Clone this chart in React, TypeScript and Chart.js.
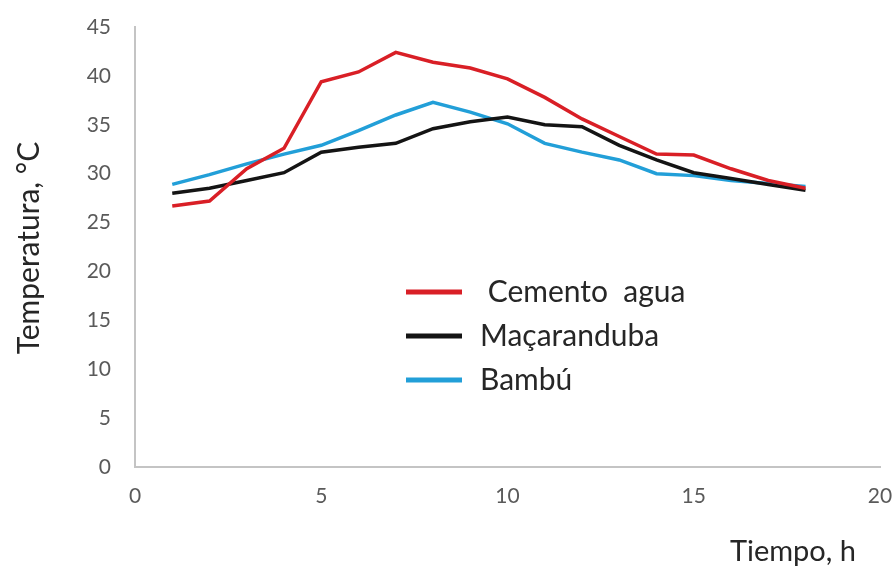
import React, { useEffect, useRef } from "react";
import { Chart, registerables } from "chart.js";

Chart.register(...registerables);

const hours = [1, 2, 3, 4, 5, 6, 7, 8, 9, 10, 11, 12, 13, 14, 15, 16, 17, 18];
const cementoAgua = [26.7, 27.2, 30.5, 32.6, 39.4, 40.4, 42.4, 41.4, 40.8, 39.7, 37.8, 35.6, 33.8, 32.0, 31.9, 30.5, 29.3, 28.5];
const macaranduba = [28.0, 28.5, 29.3, 30.1, 32.2, 32.7, 33.1, 34.6, 35.3, 35.8, 35.0, 34.8, 32.9, 31.4, 30.1, 29.5, 28.9, 28.3];
const bambu = [28.9, 29.9, 31.0, 32.0, 32.9, 34.4, 36.0, 37.3, 36.3, 35.1, 33.1, 32.2, 31.4, 30.0, 29.8, 29.3, 29.0, 28.7];
const seriesLabels = [" Cemento  agua", "Maçaranduba", "Bambú"];
const seriesColors = ["#d91f26", "#141414", "#229fd8"];
const xTicks = [0, 5, 10, 15, 20];
const yTicks = [0, 5, 10, 15, 20, 25, 30, 35, 40, 45];
const xTitle = "Tiempo, h";
const yTitle = "Temperatura, °C";

const FONT = "Lato, 'Open Sans', sans-serif";

const overlayPlugin = {
  id: "overlay",
  afterDraw(chart: any) {
    const ctx = chart.ctx;
    ctx.save();
    ctx.fillStyle = "#262626";
    ctx.font = `29px ${FONT}`;
    ctx.textBaseline = "middle";
    ctx.textAlign = "right";
    ctx.fillText(xTitle, 856, 552);
    ctx.save();
    ctx.translate(29, 248);
    ctx.rotate(-Math.PI / 2);
    ctx.textAlign = "center";
    ctx.font = `30px ${FONT}`;
    ctx.fillText(yTitle, 0, 0);
    ctx.restore();
    const rows = [292, 336, 380];
    chart.data.datasets.forEach((ds: any, i: number) => {
      const y = rows[i];
      ctx.strokeStyle = ds.borderColor;
      ctx.lineWidth = 5;
      ctx.lineCap = "butt";
      ctx.beginPath();
      ctx.moveTo(406, y);
      ctx.lineTo(462, y);
      ctx.stroke();
      ctx.fillStyle = "#262626";
      ctx.textAlign = "left";
      ctx.font = `30px ${FONT}`;
      ctx.fillText(ds.label, 480, y);
    });
    ctx.restore();
  },
};

export default function App() {
  const ref = useRef<HTMLCanvasElement>(null);
  useEffect(() => {
    if (!ref.current) return;
    const makeData = (vals: number[]) => hours.map((h, i) => ({ x: h, y: vals[i] }));
    const chart = new Chart(ref.current, {
      type: "line",
      data: {
        datasets: [cementoAgua, macaranduba, bambu].map((vals, i) => ({
          label: seriesLabels[i],
          data: makeData(vals),
          borderColor: seriesColors[i],
          backgroundColor: seriesColors[i],
          borderWidth: 3.5,
          pointRadius: 0,
          tension: 0,
          fill: false,
        })),
      },
      options: {
        animation: false,
        responsive: false,
        maintainAspectRatio: false,
        layout: { padding: { top: 27, right: 16, left: 0, bottom: 0 } },
        plugins: { legend: { display: false }, tooltip: { enabled: false } },
        scales: {
          x: {
            type: "linear",
            min: 0,
            max: 20,
            afterBuildTicks: (s: any) => {
              s.ticks = xTicks.map((v) => ({ value: v }));
            },
            afterFit: (s: any) => {
              s.height = 102;
              s.paddingLeft = 0;
              s.paddingRight = 0;
            },
            grid: { display: false, drawTicks: false },
            border: { display: true, color: "#c4c4c4", width: 2 },
            ticks: { color: "#5a5a5a", font: { family: FONT, size: 21 }, padding: 17, maxRotation: 0 },
          },
          y: {
            type: "linear",
            min: 0,
            max: 45,
            afterBuildTicks: (s: any) => {
              s.ticks = yTicks.map((v) => ({ value: v }));
            },
            afterFit: (s: any) => {
              s.width = 135;
              s.paddingTop = 0;
              s.paddingBottom = 0;
            },
            grid: { display: false, drawTicks: false },
            border: { display: true, color: "#c4c4c4", width: 2 },
            ticks: { color: "#5a5a5a", font: { family: FONT, size: 21 }, padding: 24 },
          },
        },
      },
      plugins: [overlayPlugin],
    });
    return () => chart.destroy();
  }, []);
  return (
    <div style={{ position: "fixed", left: 0, top: 0, width: 896, height: 569, background: "#fff" }}>
      <canvas ref={ref} width={896} height={569} style={{ width: 896, height: 569 }} />
    </div>
  );
}
